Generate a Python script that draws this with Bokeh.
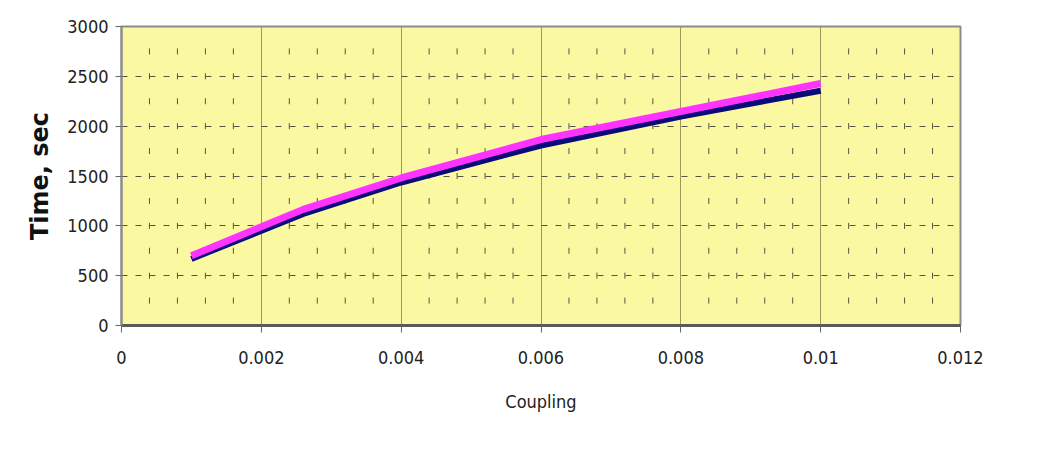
from bokeh.plotting import figure
from bokeh.models import Range1d, FixedTicker
from bokeh.embed import file_html
from bokeh.resources import INLINE

# Coupling values and settling times for the two runs
coupling = [0.001, 0.0026, 0.004, 0.006, 0.008, 0.01]
time_low = [668, 1120, 1435, 1806, 2097, 2355]
time_high = [700, 1165, 1480, 1866, 2147, 2428]

x_ticks = [0, 0.002, 0.004, 0.006, 0.008, 0.01, 0.012]
y_ticks = [0, 500, 1000, 1500, 2000, 2500, 3000]

XMAX, YMAX = 0.012, 3000

p = figure(width=1042, height=449, output_backend="svg", toolbar_location=None,
           x_range=Range1d(0, XMAX), y_range=Range1d(0, YMAX),
           min_border_left=121, min_border_right=82,
           min_border_top=26, min_border_bottom=124)

p.border_fill_color = "white"
p.background_fill_color = "#FBF8A2"
p.outline_line_color = "#8c8c8c"
p.outline_line_width = 2

# grids: solid vertical majors, dashed horizontal majors
p.xgrid.ticker = FixedTicker(ticks=x_ticks)
p.xgrid.grid_line_color = "#9c9a5a"
p.xgrid.grid_line_width = 1
p.ygrid.ticker = FixedTicker(ticks=y_ticks)
p.ygrid.grid_line_color = "#555544"
p.ygrid.grid_line_dash = "6 8"
p.ygrid.grid_line_width = 1

# short dashed minor vertical marks every 0.0004 / 250 s
minor_x = [round(i * 0.0004, 6) for i in range(1, 30) if i % 5 != 0]
x0s, y0s, y1s = [], [], []
for mx in minor_x:
    for k in range(1, 12):
        yc = k * 250
        x0s.append(mx)
        y0s.append(yc - 30)
        y1s.append(yc + 30)
p.segment(x0=x0s, y0=y0s, x1=x0s, y1=y1s, line_color="#555544", line_width=1)

# the two curves
p.line(coupling, time_low, line_color="#0a0a78", line_width=6)
p.line(coupling, time_high, line_color="#ff33ff", line_width=7)

# axes
font = "DejaVu Sans Condensed, Liberation Sans Narrow, Liberation Sans, sans-serif"
p.xaxis.ticker = FixedTicker(ticks=x_ticks)
p.xaxis.major_label_overrides = {0: "0", 0.002: "0.002", 0.004: "0.004", 0.006: "0.006",
                                 0.008: "0.008", 0.01: "0.01", 0.012: "0.012"}
p.yaxis.ticker = FixedTicker(ticks=y_ticks)
for ax in (p.xaxis, p.yaxis):
    ax.major_label_text_font = font
    ax.major_label_text_font_size = "18px"
    ax.major_label_text_color = "#222222"
    ax.minor_tick_line_color = None
    ax.major_tick_in = 0
    ax.major_tick_line_color = "#666666"

p.xaxis.axis_line_color = "#5a5a5a"
p.xaxis.axis_line_width = 3
p.xaxis.major_tick_out = 7
p.xaxis.major_label_standoff = 18
p.xaxis.axis_label = "Coupling"
p.xaxis.axis_label_text_font = font
p.xaxis.axis_label_text_font_size = "18px"
p.xaxis.axis_label_text_font_style = "normal"
p.xaxis.axis_label_text_color = "#222222"
p.xaxis.axis_label_standoff = 24

p.yaxis.axis_line_color = "#8c8c8c"
p.yaxis.axis_line_width = 2
p.yaxis.major_tick_out = 6
p.yaxis.major_label_standoff = 7
p.yaxis.axis_label = "Time, sec"
p.yaxis.axis_label_text_font = "DejaVu Sans"
p.yaxis.axis_label_text_font_size = "24px"
p.yaxis.axis_label_text_font_style = "bold"
p.yaxis.axis_label_text_color = "#111111"
p.yaxis.axis_label_standoff = 10

open("out.html", "w").write(file_html(p, INLINE))
